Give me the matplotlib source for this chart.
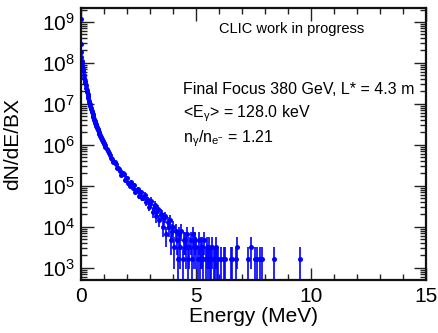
import numpy as np
import matplotlib
matplotlib.use("Agg")
import matplotlib.pyplot as plt
from matplotlib.ticker import MultipleLocator, LogLocator, NullFormatter

plt.rcParams["font.family"] = ["Liberation Sans", "DejaVu Sans"]
plt.rcParams["mathtext.fontset"] = "custom"
plt.rcParams["mathtext.rm"] = "Liberation Sans"
plt.rcParams["mathtext.it"] = "Liberation Sans"
plt.rcParams["mathtext.default"] = "regular"

# data ---------------------------------------------------------------
weight = 1.62e3  # dN/dE/BX of one entry

# very first bins (0.01 MeV wide)
spike_e = [0.005, 0.015, 0.025, 0.035, 0.045]
spike_log = [9.06, 8.45, 8.26, 8.14, 8.05]

# 0.02 MeV bins, 0.06 .. 1.04 MeV, log10(dN/dE/BX)
fine_e0 = 0.06
fine_log = [8.00, 7.93, 7.86, 7.79, 7.71, 7.63, 7.56, 7.50, 7.45, 7.39,
            7.34, 7.29, 7.23, 7.18, 7.13, 7.08, 7.04, 6.99, 6.95, 6.91,
            6.87, 6.83, 6.79, 6.75, 6.71, 6.68, 6.64, 6.60, 6.57, 6.53,
            6.50, 6.47, 6.44, 6.41, 6.38, 6.35, 6.32, 6.29, 6.27, 6.24,
            6.21, 6.19, 6.16, 6.14, 6.11, 6.09, 6.06, 6.04, 6.01, 5.99]

# 0.05 MeV bins, 1.075 .. 2.975 MeV, log10(dN/dE/BX)
coarse_e0 = 1.075
coarse_log = [5.95, 5.89, 5.84,
              5.80, 5.76, 5.67, 5.65, 5.57, 5.57, 5.53, 5.44, 5.43, 5.42,
              5.37, 5.26, 5.31, 5.28, 5.15, 5.18, 5.19, 5.06, 5.00, 5.10,
              5.03, 4.95, 5.02, 4.86, 4.88, 4.92, 4.76, 4.84, 4.84, 4.71,
              4.71, 4.78, 4.60, 4.66, 4.66, 4.49]

# entries per 0.05 MeV bin, 3.025 .. 5.975 MeV
tail_e0 = 3.025
tail_n = [22, 27, 14, 18, 21, 11, 15, 17, 9, 13,
          12, 6, 10, 11, 4, 8, 6, 9, 3, 5,
          6, 2, 5, 3, 1, 4, 2, 5, 1, 3,
          3, 2, 4, 1, 2, 3, 1, 4, 2, 3,
          2, 1, 3, 1, 2, 2, 1, 3, 1, 2,
          1, 2, 1, 1, 2, 1, 1, 2, 1, 1]

# isolated entries above 6 MeV
far_e = [6.075, 6.225, 6.275, 6.525, 6.575, 6.725, 6.775, 7.275, 7.375,
         7.575, 7.675, 7.775, 7.875, 8.375, 9.525]
far_n = [1, 1, 1, 1, 1, 1, 2, 1, 2, 1, 1, 1, 1, 1, 1]

# ---------------------------------------------------------------------
e_s = np.array(spike_e)
e_f1 = fine_e0 + 0.02 * np.arange(len(fine_log))
e_c = coarse_e0 + 0.05 * np.arange(len(coarse_log))
e_t = tail_e0 + 0.05 * np.arange(len(tail_n))

E = np.concatenate([e_s, e_f1, e_c, e_t, np.array(far_e)])
Y = np.concatenate([10 ** np.array(spike_log), 10 ** np.array(fine_log),
                    10 ** np.array(coarse_log),
                    np.array(tail_n) * weight, np.array(far_n) * weight])
dY = np.sqrt(Y * weight)
xe = np.concatenate([np.full(len(e_s), 0.005), np.full(len(e_f1), 0.01),
                     np.full(len(E) - len(e_s) - len(e_f1), 0.025)])

fig = plt.figure(figsize=(4.38, 3.33), dpi=100)
ax = fig.add_axes([0.184, 0.159, 0.789, 0.818])

ax.errorbar(E, Y, yerr=dY, xerr=xe, fmt="o", color="#0000ff", ms=3.6,
            mew=0, elinewidth=1.2, capsize=0)

ax.set_yscale("log")
ax.set_xlim(0, 15)
ax.set_ylim(10 ** 2.70, 10 ** 9.346)

ax.xaxis.set_major_locator(MultipleLocator(5))
ax.xaxis.set_minor_locator(MultipleLocator(1))
ax.yaxis.set_major_locator(LogLocator(base=10, numticks=20))
ax.yaxis.set_minor_locator(LogLocator(base=10, subs=np.arange(2, 10), numticks=20))
ax.yaxis.set_minor_formatter(NullFormatter())

ax.tick_params(which="both", direction="in", top=True, right=True,
               labelsize=15, width=1.0, color="#222222")
ax.tick_params(which="major", length=9)
ax.tick_params(which="minor", length=4.5)
ax.tick_params(axis="x", pad=5)
ax.tick_params(axis="y", pad=4)
for s in ax.spines.values():
    s.set_linewidth(1.6)
    s.set_color("#111111")

ax.set_xlabel("Energy (MeV)", fontsize=15, labelpad=1)
ax.set_ylabel("dN/dE/BX", fontsize=15)
ax.yaxis.set_label_coords(-0.17, 0.5)


def put(x, y, s, **kw):
    fig.text(x / 438, 1 - y / 333, s, va="center", **kw)


put(292, 29, "CLIC work in progress", fontsize=10.5, ha="center")
put(183, 89, "Final Focus 380 GeV, L* = 4.3 m", fontsize=11.5, ha="left")
put(183, 114, "<E$_{γ}$> = 128.0 keV", fontsize=11.5, ha="left")
put(183, 139, "n$_{γ}$/n$_{e^{-}}$ = 1.21", fontsize=11.5, ha="left")

fig.savefig("out.png", dpi=100)
